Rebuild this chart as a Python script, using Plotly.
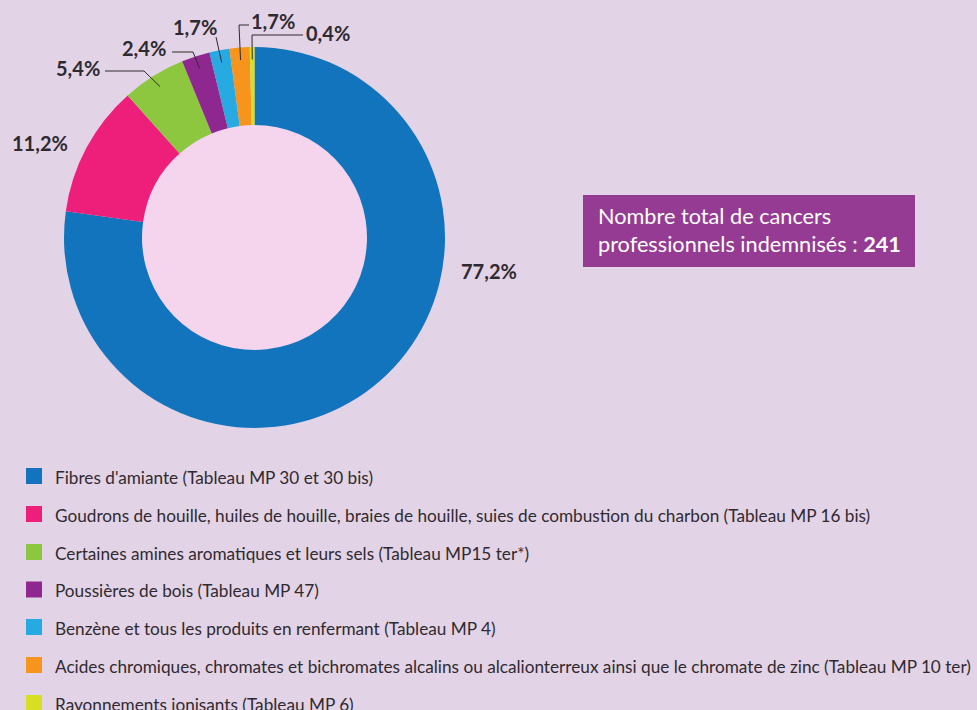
import math
import plotly.graph_objects as go

# ---- data ----
categories = [
    "Fibres d'amiante (Tableau MP 30 et 30 bis)",
    "Goudrons de houille, huiles de houille, braies de houille, suies de combustion du charbon (Tableau MP 16 bis)",
    "Certaines amines aromatiques et leurs sels (Tableau MP15 ter*)",
    "Poussières de bois (Tableau MP 47)",
    "Benzène et tous les produits en renfermant (Tableau MP 4)",
    "Acides chromiques, chromates et bichromates alcalins ou alcalionterreux ainsi que le chromate de zinc (Tableau MP 10 ter)",
    "Rayonnements ionisants (Tableau MP 6)",
]
percentages = [77.2, 11.2, 5.4, 2.4, 1.7, 1.7, 0.4]
total_cancers = 241

colors = ["#1174bc", "#ee1f7b", "#8dc63f", "#8e278f", "#27aae1", "#f7941d", "#d7df23"]

W, H = 977, 710
BG = "#e3d3e6"
HOLE_COLOR = "#f5d5ee"
TEXT = "#2f2a30"

def X(px):
    return px / W

def Y(py):
    return 1 - py / H

# donut geometry (pixels)
cx, cy, R = 254.5, 237.5, 190.5
r_in = 112.5

fig = go.Figure()
fig.add_trace(go.Pie(
    labels=categories,
    values=percentages,
    marker=dict(colors=colors, line=dict(width=0)),
    sort=False,
    direction="clockwise",
    rotation=0,
    hole=r_in / R,
    textinfo="none",
    hoverinfo="label+percent",
    showlegend=False,
    domain=dict(x=[X(cx - R), X(cx + R)], y=[Y(cy + R), Y(cy - R)]),
))

shapes = []
annotations = []

# pink centre
shapes.append(dict(type="circle", layer="below", xref="paper", yref="paper",
                   x0=X(cx - r_in), x1=X(cx + r_in), y0=Y(cy + r_in), y1=Y(cy - r_in),
                   fillcolor=HOLE_COLOR, line=dict(width=0)))

# mid-angle anchor points computed from data
total = sum(percentages)
cum = 0
anchors = []
for v in percentages:
    mid = (cum + v / 2) / total * 2 * math.pi
    cum += v
    r_a = 178
    anchors.append((cx + r_a * math.sin(mid), cy - r_a * math.cos(mid)))

def fmt(v):
    return f"{v:.1f}%".replace(".", ",")

# label layout: (elbow points list, text x, text y, xanchor)
label_layout = {
    0: ([], 459, 271, "left"),
    1: ([], 70, 143, "right"),
    2: ([(144, 71), (105, 71)], 102, 68, "right"),
    3: ([(193, 52), (172, 52)], 168, 48, "right"),
    4: ([(216, 37)], 219, 27, "right"),
    5: ([(239, 25), (249, 25)], 249, 21, "left"),
    6: ([(252, 35), (303, 35)], 304, 33, "left"),
}

for i, v in enumerate(percentages):
    pts, tx, ty, xa = label_layout[i]
    if pts:
        path_pts = [anchors[i]] + pts
        path = "M " + " L ".join(f"{X(p[0])},{Y(p[1])}" for p in path_pts)
        shapes.append(dict(type="path", xref="paper", yref="paper", path=path,
                           line=dict(color=TEXT, width=1)))
    annotations.append(dict(xref="paper", yref="paper", x=X(tx), y=Y(ty),
                            xanchor=xa, yanchor="middle", showarrow=False,
                            text=f"<b>{fmt(v)}</b>",
                            font=dict(family="Lato", size=20, color=TEXT)))

# total box
shapes.append(dict(type="rect", xref="paper", yref="paper",
                   x0=X(583), x1=X(915), y0=Y(267), y1=Y(195),
                   fillcolor="#953b94", line=dict(width=0)))
annotations.append(dict(xref="paper", yref="paper", x=X(596), y=Y(230),
                        xanchor="left", yanchor="middle", showarrow=False, align="left",
                        text=f"Nombre total de cancers<br>professionnels indemnisés : <b>{total_cancers}</b>",
                        font=dict(family="Lato", size=21.7, color="white")))

# manual legend
row_y = [476, 514, 552, 589.5, 627, 665, 703]
for i, (cat, col) in enumerate(zip(categories, colors)):
    yc = row_y[i]
    shapes.append(dict(type="rect", xref="paper", yref="paper",
                       x0=X(26), x1=X(42), y0=Y(yc + 8), y1=Y(yc - 8),
                       fillcolor=col, line=dict(width=0)))
    annotations.append(dict(xref="paper", yref="paper", x=X(53), y=Y(yc + 1),
                            xanchor="left", yanchor="middle", showarrow=False,
                            text=cat, font=dict(family="Lato", size=17.2, color=TEXT)))

fig.update_layout(
    width=W, height=H,
    margin=dict(l=0, r=0, t=0, b=0),
    paper_bgcolor=BG, plot_bgcolor=BG,
    shapes=shapes, annotations=annotations,
    showlegend=False,
)

fig.write_html("out.html",
               config={"displayModeBar": False},
               post_script="document.body.style.margin='0px';document.body.style.overflow='hidden';")
